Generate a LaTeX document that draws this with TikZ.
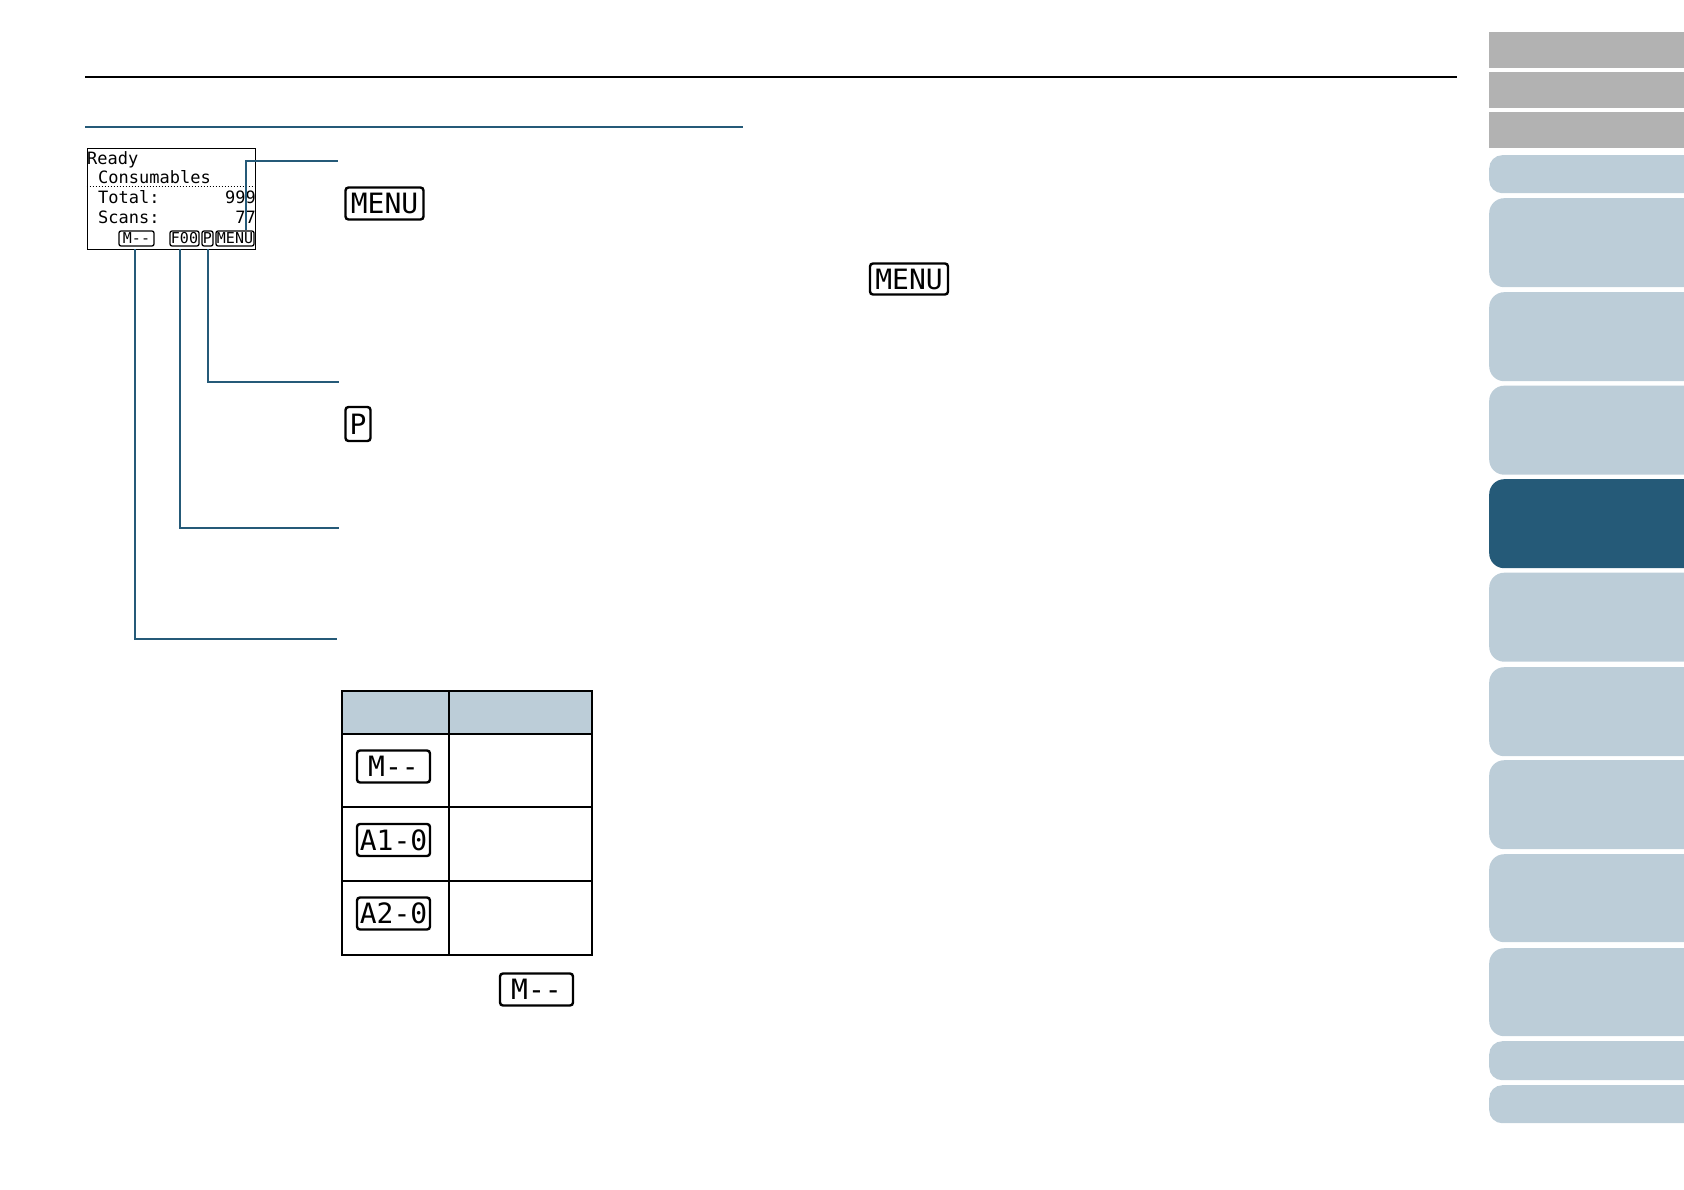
\documentclass[tikz,border=0pt]{standalone}
\usepackage{fontspec}
\setmonofont{DejaVu Sans Mono}
\definecolor{linkblue}{HTML}{255A78}
\definecolor{tabblue}{HTML}{BCCDD8}
\definecolor{tabgray}{HTML}{B2B2B2}
\tikzset{
    callout/.style={draw=linkblue, line width=2pt},
    lcdtext/.style={anchor=base west, inner sep=0pt, font=\ttfamily\fontsize{17}{17}\selectfont},
    lcdvalue/.style={lcdtext, anchor=base east},
    tag/.style={draw, line width=1.3pt, rounded corners=2pt, inner sep=0pt, minimum height=15pt, font=\ttfamily\fontsize{15}{15}\selectfont},
    bigtag/.style={draw, line width=2.4pt, rounded corners=3pt, inner sep=0pt, minimum height=32pt, minimum width=73pt, font=\ttfamily\fontsize{28}{28}\selectfont},
    cell/.style={draw, line width=1.5pt, anchor=north west, inner sep=0pt, outer sep=0pt},
    graytab/.style={fill=tabgray, anchor=north west, inner sep=0pt, minimum width=210pt},
    bluetab/.style={fill=tabblue, anchor=north west, inner sep=0pt, minimum width=240pt, rounded corners=15pt},
}
\begin{document}
\begin{tikzpicture}[x=1pt, y=-1pt]
    \useasboundingbox (0,0) rectangle (1684,1190);

    % rules
    \draw[line width=2pt] (85,77) -- (1457,77);
    \draw[draw=linkblue, line width=2pt] (85,127) -- (743,127);

    % display
    \node[draw, line width=0.9pt, inner sep=0pt, minimum width=168pt, minimum height=101pt] (screen) at (171,198.5) {};
    \node[lcdtext] (ready) at (87,165) {Ready};
    \node[lcdtext] (consumables) at (98,184) {Consumables};
    \node[lcdtext] (total) at (98,204) {Total:};
    \node[lcdvalue] (totalval) at (256,204) {999};
    \node[lcdtext] (scans) at (98,224) {Scans:};
    \node[lcdvalue] (scansval) at (256,224) {77};
    \draw[dotted, line width=1pt] (screen.west |- 0,187) -- (screen.east |- 0,187);
    \node[tag, minimum width=35pt] (modetag) at (136.5,238.5) {M--};
    \node[tag, minimum width=29pt] (foo) at (184.5,238.5) {F00};
    \node[tag, minimum width=11pt] (ptag) at (207.5,238.5) {P};
    \node[tag, minimum width=38pt] (menutag) at (235,238.5) {MENU};

    % callouts
    \coordinate (menuend) at (338,161);
    \coordinate (pend) at (339,381.5);
    \coordinate (fooend) at (339,527.5);
    \coordinate (modeend) at (337,639);
    \draw[callout] ([xshift=11pt]menutag.north) |- (menuend);
    \draw[callout] (screen.south -| ptag) |- (pend);
    \draw[callout] (screen.south -| 180,0) |- (fooend);
    \draw[callout] (screen.south -| 135,0) |- (modeend);

    % big tags
    \node[bigtag, minimum width=78pt] (menubig) at (384.5,203.5) {MENU};
    \node[bigtag, minimum width=78pt, minimum height=31pt] (menuright) at (909,279) {MENU};
    \node[bigtag, minimum width=25pt, minimum height=34pt] (pbig) at (358,424) {P};

    % table
    \node[cell, fill=tabblue, minimum width=107pt, minimum height=43pt] (heada) at (342,691) {};
    \node[cell, fill=tabblue, minimum width=143pt, minimum height=43pt] (headb) at (449,691) {};
    \node[cell, minimum width=107pt, minimum height=73pt] (cella) at (342,734) {};
    \node[cell, minimum width=143pt, minimum height=73pt] (cellb) at (449,734) {};
    \node[cell, minimum width=107pt, minimum height=74pt] (cellc) at (342,807) {};
    \node[cell, minimum width=143pt, minimum height=74pt] (celld) at (449,807) {};
    \node[cell, minimum width=107pt, minimum height=74pt] (celle) at (342,881) {};
    \node[cell, minimum width=143pt, minimum height=74pt] (cellf) at (449,881) {};
    \node[bigtag] (modea) at (393.5,766.5) {M--};
    \node[bigtag] (autoa) at (393.5,840) {A1-0};
    \node[bigtag] (autob) at (393.5,913.5) {A2-0};
    \node[bigtag] (modeb) at (536.5,989.5) {M--};

    % side tabs
    \node[graytab, minimum height=36pt] (taba) at (1489,32) {};
    \node[graytab, minimum height=36pt] (tabb) at (1489,72) {};
    \node[graytab, minimum height=36pt] (tabc) at (1489,112) {};
    \node[bluetab, rounded corners=13pt, minimum height=38pt] (tabd) at (1489,155) {};
    \node[bluetab, minimum height=89pt] (tabe) at (1489,198) {};
    \node[bluetab, minimum height=89pt] (tabf) at (1489,292) {};
    \node[bluetab, minimum height=89pt] (tabg) at (1489,385.5) {};
    \node[bluetab, fill=linkblue, minimum height=89pt] (tabh) at (1489,479) {};
    \node[bluetab, minimum height=89pt] (tabi) at (1489,572.5) {};
    \node[bluetab, minimum height=89pt] (tabj) at (1489,667) {};
    \node[bluetab, minimum height=89pt] (tabk) at (1489,760) {};
    \node[bluetab, minimum height=88pt] (tabl) at (1489,854) {};
    \node[bluetab, minimum height=88pt] (tabm) at (1489,948) {};
    \node[bluetab, rounded corners=13pt, minimum height=39pt] (tabn) at (1489,1041) {};
    \node[bluetab, rounded corners=13pt, minimum height=38pt] (tabo) at (1489,1085) {};
\end{tikzpicture}
\end{document}
